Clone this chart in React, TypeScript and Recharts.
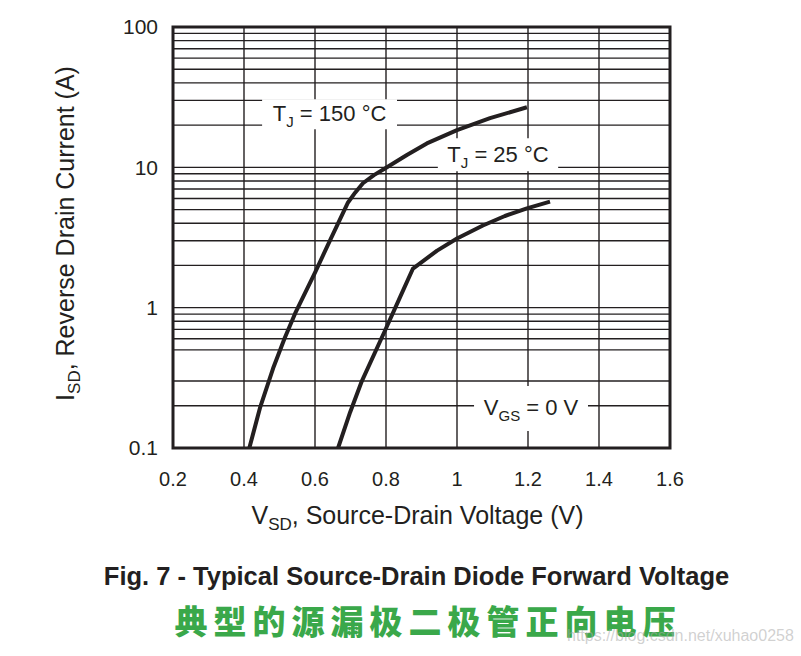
import { LineChart, Line, XAxis, YAxis, CartesianGrid, ReferenceArea } from 'recharts';

// V_SD (V) vs I_SD (A)
const vsd150 = [0.415, 0.445, 0.482, 0.515, 0.544, 0.6, 0.642, 0.693, 0.713, 0.735, 0.766, 0.797, 0.86, 0.915, 1.0, 1.093, 1.197];
const isd150 = [0.1, 0.193, 0.37, 0.61, 0.91, 1.78, 3.0, 5.62, 6.6, 7.7, 8.8, 9.8, 12.3, 14.8, 18.4, 22.4, 26.8];

const vsd25 = [0.665, 0.699, 0.732, 0.797, 0.839, 0.876, 0.944, 1.0, 1.073, 1.135, 1.197, 1.262];
const isd25 = [0.1, 0.18, 0.3, 0.685, 1.18, 1.9, 2.55, 3.11, 3.85, 4.5, 5.1, 5.7];

const xTicks = [0.2, 0.4, 0.6, 0.8, 1.0, 1.2, 1.4, 1.6];
const xTickLabels = ['0.2', '0.4', '0.6', '0.8', '1', '1.2', '1.4', '1.6'];
const yTicks = [0.1, 1, 10, 100];
const yTickLabels = ['0.1', '1', '10', '100'];
const yGrid = [0.1, 0.2, 0.3, 0.4, 0.5, 0.6, 0.7, 0.8, 0.9, 1, 2, 3, 4, 5, 6, 7, 8, 9, 10, 20, 30, 40, 50, 60, 70, 80, 90, 100];

const FONT = '"Liberation Sans", Arial, Helvetica, sans-serif';
const INK = '#231f20';

const data150 = vsd150.map((v, i) => ({ v, i: isd150[i] }));
const data25 = vsd25.map((v, i) => ({ v, i: isd25[i] }));

const boxLabel = (main: string, sub: string, rest: string) => (props: any) => {
    const { x, y, width, height } = props.viewBox;
    return (
        <text
            x={x + width / 2}
            y={y + height / 2 + 7}
            textAnchor='middle'
            fontFamily={FONT}
            fontSize={22}
            fill={INK}
        >
            {main}
            <tspan dy={6} fontSize={15}>
                {sub}
            </tspan>
            <tspan dy={-6}>{rest}</tspan>
        </text>
    );
};

export default function App() {
    return (
        <div style={{ position: 'absolute', left: 0, top: 0, width: 801, height: 656, background: '#fff' }}>
            <LineChart width={801} height={656} margin={{ top: 27, right: 131, bottom: 128, left: 73 }}>
                <CartesianGrid
                    stroke={INK}
                    strokeWidth={1.4}
                    verticalValues={xTicks}
                    horizontalValues={yGrid}
                />
                <XAxis
                    type='number'
                    dataKey='v'
                    domain={[0.2, 1.6]}
                    ticks={xTicks}
                    tickFormatter={(_, idx) => xTickLabels[idx]}
                    axisLine={false}
                    tickLine={false}
                    tickMargin={18}
                    height={80}
                    tick={{ fontSize: 20, fill: INK, fontFamily: FONT }}
                    allowDataOverflow
                    label={(props: any) => {
                        const { x, y, width } = props.viewBox;
                        return (
                            <text x={x + width / 2 - 4} y={y + 76} textAnchor='middle' fontFamily={FONT} fontSize={25} fill={INK}>
                                V
                                <tspan dy={6} fontSize={17}>
                                    SD
                                </tspan>
                                <tspan dy={-6}>, Source-Drain Voltage (V)</tspan>
                            </text>
                        );
                    }}
                />
                <YAxis
                    type='number'
                    dataKey='i'
                    scale='log'
                    domain={[0.1, 100]}
                    ticks={yTicks}
                    tickFormatter={(_, idx) => yTickLabels[idx]}
                    axisLine={false}
                    tickLine={false}
                    tickMargin={9}
                    width={100}
                    tick={{ fontSize: 21, fill: INK, fontFamily: FONT }}
                    allowDataOverflow
                    label={(props: any) => {
                        const { x, y, height } = props.viewBox;
                        const cx = x + 1;
                        const cy = y + height / 2 - 4;
                        return (
                            <text
                                x={cx}
                                y={cy}
                                transform={`rotate(-90, ${cx}, ${cy})`}
                                textAnchor='middle'
                                fontFamily={FONT}
                                fontSize={25}
                                fill={INK}
                            >
                                I
                                <tspan dy={6} fontSize={17}>
                                    SD
                                </tspan>
                                <tspan dy={-6}>, Reverse Drain Current (A)</tspan>
                            </text>
                        );
                    }}
                />
                <ReferenceArea x1={0.451} x2={0.831} y1={18.7} y2={30.6} fill='#fff' fillOpacity={1} stroke='none' label={boxLabel('T', 'J', ' = 150 °C')} />
                <ReferenceArea x1={0.946} x2={1.285} y1={9.36} y2={16.1} fill='#fff' fillOpacity={1} stroke='none' label={boxLabel('T', 'J', ' = 25 °C')} />
                <ReferenceArea x1={1.048} x2={1.369} y1={0.132} y2={0.277} fill='#fff' fillOpacity={1} stroke='none' label={boxLabel('V', 'GS', ' = 0 V')} />
                <Line data={data150} dataKey='i' type='linear' stroke={INK} strokeWidth={4} strokeLinejoin='round' dot={false} activeDot={false} isAnimationActive={false} />
                <Line data={data25} dataKey='i' type='linear' stroke={INK} strokeWidth={4} strokeLinejoin='round' dot={false} activeDot={false} isAnimationActive={false} />
                <ReferenceArea x1={0.2} x2={1.6} y1={0.1} y2={100} fill='none' stroke={INK} strokeWidth={3} />
            </LineChart>
            <div
                style={{
                    position: 'absolute',
                    left: 0,
                    width: 833,
                    top: 561,
                    textAlign: 'center',
                    fontFamily: FONT,
                    fontWeight: 'bold',
                    fontSize: 25.5,
                    color: INK,
                    lineHeight: '30px',
                }}
            >
                Fig. 7 - Typical Source-Drain Diode Forward Voltage
            </div>
            <div
                style={{
                    position: 'absolute',
                    left: 0,
                    width: 856,
                    top: 600,
                    textAlign: 'center',
                    fontFamily: '"Noto Sans CJK SC", sans-serif',
                    fontWeight: 900,
                    fontSize: 33,
                    letterSpacing: 6,
                    color: '#3aa84a',
                    lineHeight: '40px',
                }}
            >
                典型的源漏极二极管正向电压
            </div>
            <div
                style={{
                    position: 'absolute',
                    left: 567,
                    top: 627,
                    fontFamily: FONT,
                    fontSize: 16,
                    color: 'rgba(170,170,170,0.55)',
                    whiteSpace: 'nowrap',
                }}
            >
                https://blog.csdn.net/xuhao0258
            </div>
        </div>
    );
}
